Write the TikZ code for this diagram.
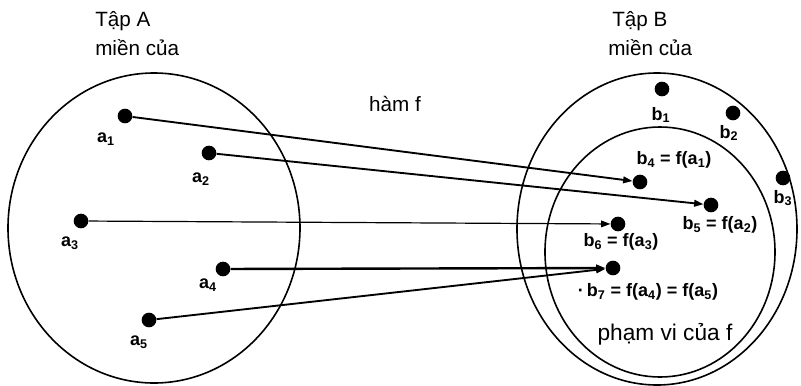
\documentclass[tikz,border=0pt]{standalone}
\usepackage{fontspec}
\setmainfont{Liberation Sans}
\usetikzlibrary{arrows.meta,positioning}

\begin{document}
\begin{tikzpicture}[x=0.75pt,y=-0.75pt,>={Triangle[length=7pt,width=5pt]},
  pt/.style={circle,fill=black,minimum size=11pt,inner sep=0pt},
  lbl/.style={font=\fontsize{13.5}{16}\selectfont\bfseries,inner sep=0pt},
  hd/.style={font=\fontsize{15.5}{18}\selectfont,inner sep=0pt,anchor=base west},
  map/.style={->,line width=1.4pt}]
\useasboundingbox (0,0) rectangle (801,386);
% sets
\draw[line width=1.2pt] (154,228) ellipse [x radius=109.5pt,y radius=116.25pt];
\draw[line width=1.2pt] (657,229) ellipse [x radius=105pt,y radius=117pt];
\draw[line width=1.2pt] (660,252) ellipse [x radius=86.25pt,y radius=93.75pt];
% headings
\node[hd] (tA) at (95,26) {Tập A};
\node[hd] (mA) at (95,55) {miền của};
\node[hd] (tB) at (612,26) {Tập B};
\node[hd] (mB) at (608,55) {miền của};
\node[font=\fontsize{15.5}{18}\selectfont,inner sep=0pt] (hf) at (395,104) {hàm f};
\node[font=\fontsize{17}{20}\selectfont,inner sep=0pt] (pv) at (665,334) {phạm vi của f};
% elements
\foreach \n/\x/\y in {a1/125/116,a2/209/153,a3/81/221,a4/223/269,a5/149/320,
  b1/662/89,b2/733/113,b3/783/178,b4/640/182,b5/711/205,b6/618/224,b7/613/268}
  \node[pt] (\n) at (\x,\y) {};
\foreach \n/\x/\y/\s in {a1/106/139/1,a2/201/179/2,a3/70/243/3,a4/208/285/4,a5/139/342/5,
  b1/661/115/1,b2/729/133/2,b3/783/198/3}
  \node[lbl] (l\n) at (\x,\y) {\ifnum\pdfstrcmp{\n}{b1}<0 a\else b\fi\textsubscript{\s}};
\node[lbl] (lb4) at (674,160) {b\textsubscript{4} = f(a\textsubscript{1})};
\node[lbl] (lb5) at (720,225) {b\textsubscript{5} = f(a\textsubscript{2})};
\node[lbl] (lb6) at (621,242) {b\textsubscript{6} = f(a\textsubscript{3})};
\node[lbl] (lb7) at (648,292) {·\,b\textsubscript{7} = f(a\textsubscript{4}) = f(a\textsubscript{5})};
% mapping f
\draw[map] (a1) -- (b4);
\draw[map] (a2) -- (b5);
\draw[map,line width=0.9pt] (a3) -- (b6);
\draw[map,line width=1.8pt] (a4) -- (b7);
\draw[map] (a5) -- (b7);
\end{tikzpicture}
\end{document}
